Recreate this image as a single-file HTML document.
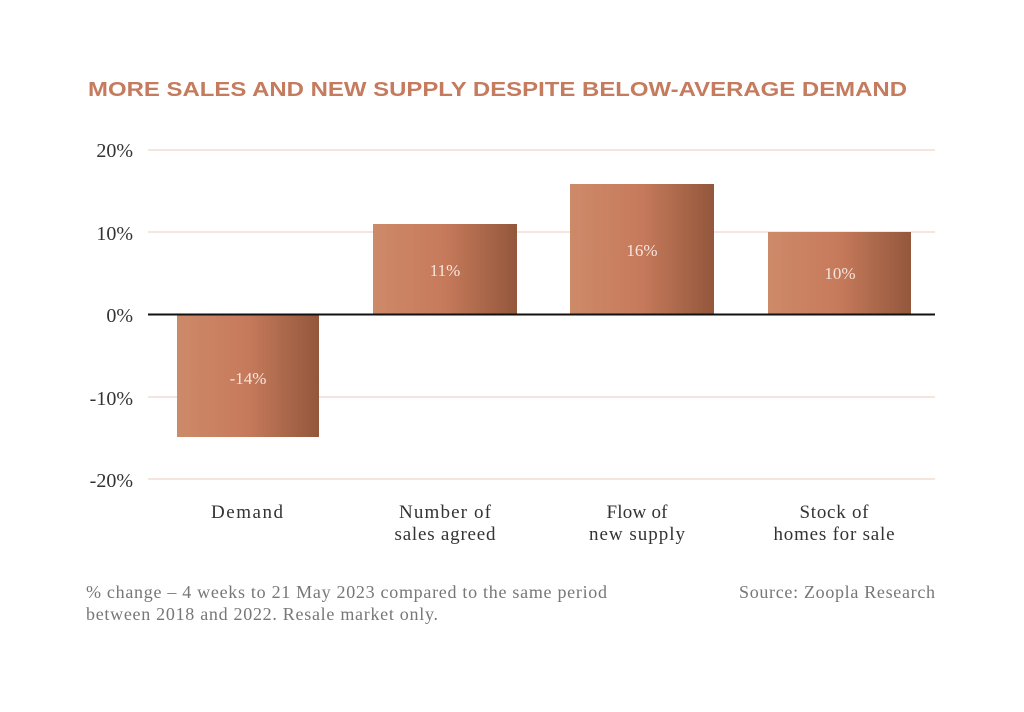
<!DOCTYPE html>
<html><head><meta charset="utf-8"><style>
body{margin:0;background:#fff;}
svg text{font-family:"Liberation Serif",serif;}
</style></head><body>
<svg width="1024" height="707" viewBox="0 0 1024 707" xmlns="http://www.w3.org/2000/svg">
<defs>
<linearGradient id="g" x1="0" x2="1" y1="0" y2="0">
<stop offset="0" stop-color="#cd8a69"/>
<stop offset="0.5" stop-color="#c67a5b"/>
<stop offset="1" stop-color="#93573c"/>
</linearGradient>
</defs>
<text x="88" y="96" style="font-family:'Liberation Sans',sans-serif" font-weight="bold" font-size="20" fill="#c47b5e" textLength="819" lengthAdjust="spacingAndGlyphs">MORE SALES AND NEW SUPPLY DESPITE BELOW-AVERAGE DEMAND</text>
<g stroke="#f1ddd4" stroke-width="1.5">
<line x1="148" x2="935" y1="150" y2="150"/>
<line x1="148" x2="935" y1="232" y2="232"/>
<line x1="148" x2="935" y1="397" y2="397"/>
<line x1="148" x2="935" y1="479" y2="479"/>
</g>
<g font-size="20" fill="#333" text-anchor="end">
<text x="133" y="157">20%</text>
<text x="133" y="240">10%</text>
<text x="133" y="322">0%</text>
<text x="133" y="405">-10%</text>
<text x="133" y="487">-20%</text>
</g>
<rect x="177" y="315" width="142" height="122" fill="url(#g)"/>
<rect x="373" y="224" width="144" height="90" fill="url(#g)"/>
<rect x="570" y="184" width="144" height="130" fill="url(#g)"/>
<rect x="768" y="232" width="143" height="82" fill="url(#g)"/>
<line x1="148" x2="935" y1="314.5" y2="314.5" stroke="#111" stroke-width="2"/>
<g font-size="17" fill="#f6e6dd" text-anchor="middle">
<text x="248" y="384">-14%</text>
<text x="445" y="276">11%</text>
<text x="642" y="256">16%</text>
<text x="840" y="279">10%</text>
</g>
<g font-size="19" fill="#333" text-anchor="middle">
<text x="247" y="518" textLength="72">Demand</text>
<text x="445" y="518" textLength="92">Number of</text>
<text x="445" y="540" textLength="101">sales agreed</text>
<text x="637" y="518" textLength="61">Flow of</text>
<text x="637" y="540" textLength="96">new supply</text>
<text x="834" y="518" textLength="69">Stock of</text>
<text x="834" y="540" textLength="121">homes for sale</text>
</g>
<g font-size="18" fill="#777">
<text x="86" y="598" textLength="521">% change – 4 weeks to 21 May 2023 compared to the same period</text>
<text x="86" y="620" textLength="352">between 2018 and 2022. Resale market only.</text>
<text x="739" y="598" textLength="196">Source: Zoopla Research</text>
</g>
</svg>
</body></html>
